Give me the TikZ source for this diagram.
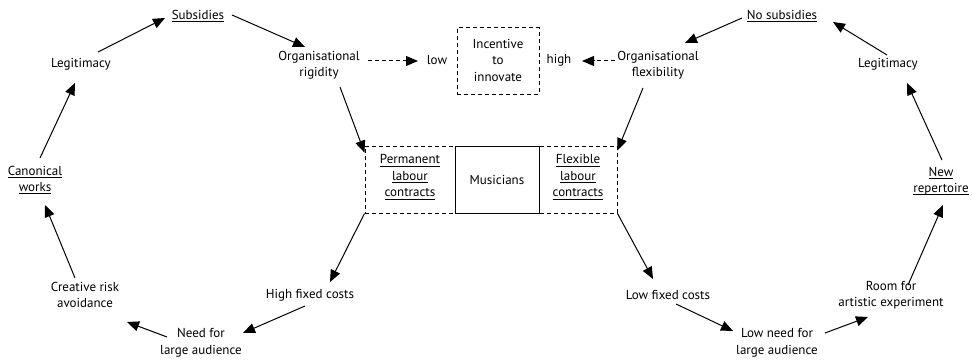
\documentclass[tikz,border=0pt]{standalone}
\usepackage{fontspec}
\setmainfont{PT Sans}
\usetikzlibrary{arrows.meta}
\newsavebox\ulxbox
\newcommand\ulx[1]{\sbox\ulxbox{#1}\rlap{\rule[-2.4pt]{\wd\ulxbox}{0.6pt}}\usebox\ulxbox}
\tikzset{
  lbl/.style={inner sep=0pt, align=center, font=\fontsize{13}{16.5}\selectfont},
  arr/.style={line width=1pt, -{Triangle[length=12pt,width=10pt]}},
  darr/.style={arr, dash pattern=on 4pt off 3pt},
  dbox/.style={draw, line width=1pt, dash pattern=on 4pt off 3pt, inner sep=0pt},
  sbox/.style={draw, line width=1pt, inner sep=0pt}
}
\begin{document}
\begin{tikzpicture}[x=1pt, y=-1pt]
\useasboundingbox (0,0) rectangle (972,361);
% left cycle
\node[lbl] (sub) at (198,16) {\ulx{Subsidies}};
\node[lbl] (legL) at (81,64) {Legitimacy};
\node[lbl] (can) at (35,180) {\ulx{Canonical}\\\ulx{works}};
\node[lbl] (cre) at (85,295) {Creative risk\\avoidance};
\node[lbl] (need) at (201,343) {Need for\\large audience};
\node[lbl] (high) at (310,295) {High fixed costs};
\node[lbl] (rig) at (319,65) {Organisational\\rigidity};
% centre
\node[lbl] (low) at (437,60) {low};
\node[dbox, minimum width=82pt, minimum height=66pt] (inc) at (498,61) {};
\node[lbl] (inctext) at (498,60) {Incentive\\to\\innovate};
\node[lbl] (hi) at (559,60) {high};
\node[lbl] (flex) at (658,65) {Organisational\\flexibility};
\node[dbox, minimum width=252pt, minimum height=67pt] (outer) at (491,179.5) {};
\node[sbox, fill=white, minimum width=84pt, minimum height=67pt] (mus) at (497,179.5) {};
\node[lbl] (mustext) at (497,179.5) {Musicians};
\node[lbl] (perm) at (410,177) {\ulx{Permanent}\\\ulx{labour}\\\ulx{contracts}};
\node[lbl] (flexc) at (578,177) {\ulx{Flexible}\\\ulx{labour}\\\ulx{contracts}};
% right cycle
\node[lbl] (lowfc) at (668,295) {Low fixed costs};
\node[lbl] (lowneed) at (777,343) {Low need for\\large audience};
\node[lbl] (room) at (891,295) {Room for\\artistic experiment};
\node[lbl] (newrep) at (941,181) {\ulx{New}\\\ulx{repertoire}};
\node[lbl] (legR) at (888,64) {Legitimacy};
\node[lbl] (nosub) at (782,16) {\ulx{No subsidies}};
% left arrows
\draw[arr] ([shift={(17,-12)}]legL.center) -- ([shift={(-33,2)}]sub.center);
\draw[arr] ([shift={(34,-1)}]sub.center) -- ([shift={(-14,-18)}]rig.center);
\draw[arr] ([shift={(5,-22)}]can.center) -- ([shift={(-6,19)}]legL.center);
\draw[arr] ([shift={(-10,-17)}]cre.center) -- ([shift={(10,25)}]can.center);
\draw[arr] ([shift={(-34,-6)}]need.center) -- ([shift={(42,27)}]cre.center);
\draw[arr] ([shift={(-5,11)}]high.center) -- ([shift={(42,-10)}]need.center);
\draw[arr] ([shift={(21,22)}]rig.center) -- (outer.168);
\draw[arr] (outer.south west) -- ([shift={(20,-13)}]high.center);
\draw[darr] ([shift={(49,-4)}]rig.center) -- ([shift={(-19,1)}]low.center);
\draw[darr] ([shift={(-43,-4)}]flex.center) -- ([shift={(23,1)}]hi.center);
% right arrows
\draw[arr] ([shift={(-40,2)}]nosub.center) -- ([shift={(27,-22)}]flex.center);
\draw[arr] ([shift={(-1,-9)}]legR.center) -- ([shift={(51,6)}]nosub.center);
\draw[arr] ([shift={(1,-21)}]newrep.center) -- ([shift={(19,19)}]legR.center);
\draw[arr] ([shift={(17,-10)}]room.center) -- ([shift={(2,24)}]newrep.center);
\draw[arr] ([shift={(48,-10)}]lowneed.center) -- ([shift={(-23,22)}]room.center);
\draw[arr] ([shift={(8,9)}]lowfc.center) -- ([shift={(-44,-12)}]lowneed.center);
\draw[arr] ([shift={(-15,23)}]flex.center) -- (outer.13);
\draw[arr] (outer.south east) -- ([shift={(-15,-16)}]lowfc.center);
\end{tikzpicture}
\end{document}
